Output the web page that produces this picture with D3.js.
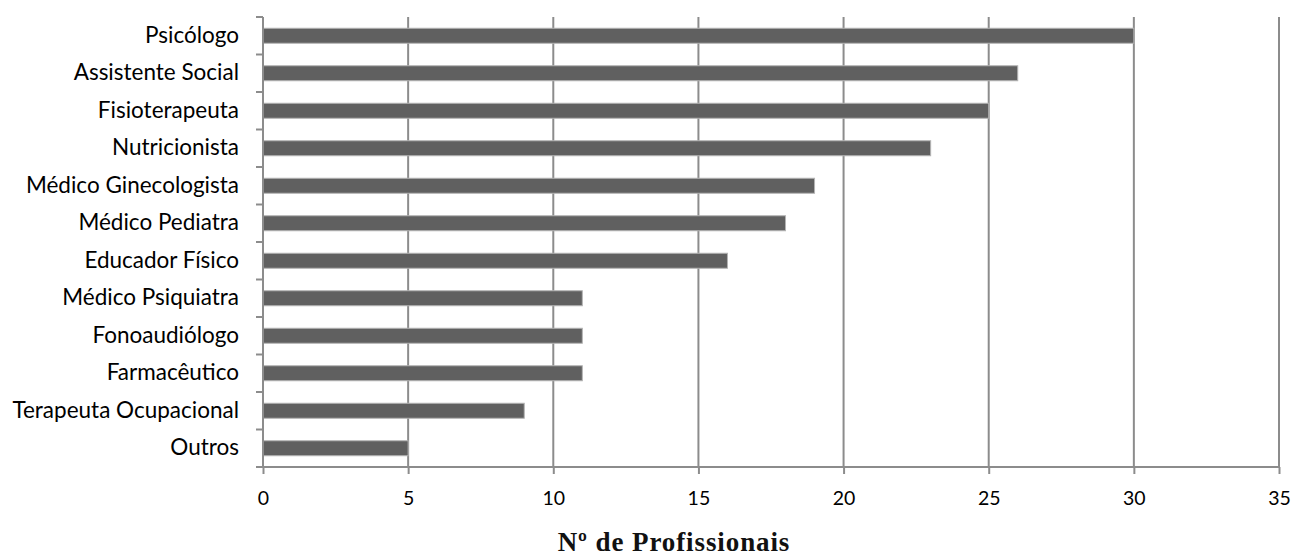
<!DOCTYPE html>
<html><head><meta charset="utf-8">
<script src="https://cdn.jsdelivr.net/npm/d3@7"></script>
<style>body{margin:0;background:#fff}</style>
</head><body>
<svg id="c" width="1291" height="557"></svg>
<script>
const categories = ["Psicólogo","Assistente Social","Fisioterapeuta","Nutricionista","Médico Ginecologista","Médico Pediatra","Educador Físico","Médico Psiquiatra","Fonoaudiólogo","Farmacêutico","Terapeuta Ocupacional","Outros"];
const values = [30,26,25,23,19,18,16,11,11,11,9,5];
const xTicks = [0,5,10,15,20,25,30,35];
const xTitle = "Nº de Profissionais";

const svg = d3.select("#c");
const L = 263, R = 1279, T = 17, B = 467;
const x = d3.scaleLinear().domain([0,35]).range([L,R]);
const y = d3.scaleBand().domain(categories).range([T,B]).paddingInner(0.6).paddingOuter(0.3);
const step = (B-T)/categories.length;
const gridCol = "#8c8c8c";
const labelFont = "Lato, 'Open Sans', sans-serif";

// gridlines
svg.append("g").selectAll("line").data(xTicks.filter(d=>d>0)).join("line")
  .attr("x1",d=>x(d)).attr("x2",d=>x(d)).attr("y1",T).attr("y2",B)
  .attr("stroke",gridCol).attr("stroke-width",2);

// bars
svg.append("g").selectAll("rect").data(values).join("rect")
  .attr("x",x(0)).attr("y",(d,i)=>y(categories[i]))
  .attr("width",d=>x(d)-x(0)).attr("height",y.bandwidth())
  .attr("fill","#606060").attr("stroke","#b4b4b4").attr("stroke-width",1);

// x axis
const xa = svg.append("g").attr("transform",`translate(0,${B})`)
  .call(d3.axisBottom(x).tickValues(xTicks).tickSize(7).tickPadding(17).tickFormat(d3.format("d")));
xa.select(".domain").attr("stroke",gridCol).attr("stroke-width",2).attr("d",`M${L},0H${R}`);
xa.selectAll(".tick line").attr("stroke",gridCol).attr("stroke-width",2);
xa.selectAll(".tick text").attr("font-family",labelFont).attr("font-size",19.5).attr("fill","#000");

// y axis with ticks at band boundaries
const ya = svg.append("g").attr("transform",`translate(${L},0)`)
  .call(d3.axisLeft(y).tickSize(0).tickPadding(24));
ya.select(".domain").attr("stroke",gridCol).attr("stroke-width",2).attr("d",`M0,${T}V${B}`);
ya.selectAll(".tick text").attr("font-family",labelFont).attr("font-size",22.5).attr("fill","#000");
svg.append("g").selectAll("line").data(d3.range(categories.length+1)).join("line")
  .attr("x1",L-7).attr("x2",L).attr("y1",i=>T+i*step).attr("y2",i=>T+i*step)
  .attr("stroke",gridCol).attr("stroke-width",2);

// title
svg.append("text").attr("x",674).attr("y",551).attr("text-anchor","middle")
  .attr("font-family","'Liberation Serif', 'Times New Roman', serif").attr("font-weight","bold")
  .attr("font-size",27).attr("letter-spacing",0.9).attr("fill","#111").text(xTitle);
</script>
</body></html>
